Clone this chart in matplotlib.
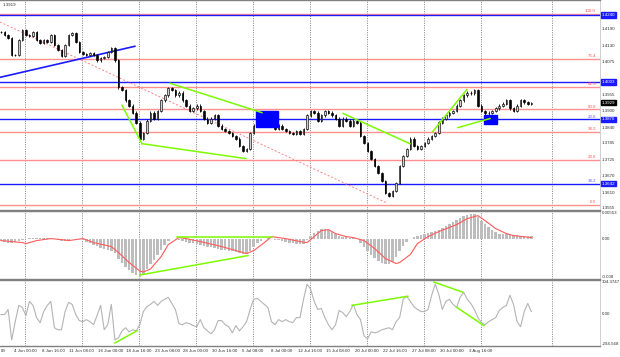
import matplotlib
matplotlib.use('Agg')
import matplotlib.pyplot as plt
from matplotlib.transforms import blended_transform_factory as btf
from matplotlib.patches import Rectangle

plt.rcParams['font.family'] = ['Liberation Sans', 'DejaVu Sans']

# ---------------- data ----------------
closes = [1.4179, 1.4168, 1.4158, 1.4097, 1.4097, 1.4151, 1.4186, 1.4168, 1.4165, 1.4179,
          1.4151, 1.4140, 1.4151, 1.4143, 1.4168, 1.4133, 1.4115, 1.4094, 1.4133, 1.4168,
          1.4176, 1.4143, 1.4108, 1.4101, 1.4097, 1.4104, 1.4097, 1.4079, 1.4087, 1.4090,
          1.4108, 1.4122, 1.4079, 1.3983, 1.3973, 1.3937, 1.3919, 1.3894, 1.3859, 1.3802,
          1.3823, 1.3866, 1.3894, 1.3873, 1.3901, 1.3937, 1.3955, 1.3980, 1.3973, 1.3955,
          1.3965, 1.3937, 1.3919, 1.3901, 1.3909, 1.3919, 1.3901, 1.3873, 1.3859, 1.3873,
          1.3884, 1.3848, 1.3837, 1.3830, 1.3823, 1.3812, 1.3802, 1.3777, 1.3759, 1.3766,
          1.3823, 1.3848, 1.3873, 1.3884, 1.3894, 1.3873, 1.3848, 1.3837, 1.3848, 1.3837,
          1.3830, 1.3823, 1.3820, 1.3830, 1.3820, 1.3837, 1.3884, 1.3901, 1.3894, 1.3866,
          1.3884, 1.3901, 1.3894, 1.3884, 1.3873, 1.3848, 1.3873, 1.3866, 1.3848, 1.3866,
          1.3859, 1.3812, 1.3787, 1.3759, 1.3731, 1.3706, 1.3681, 1.3652, 1.3610, 1.3599,
          1.3617, 1.3645, 1.3706, 1.3741, 1.3766, 1.3802, 1.3777, 1.3766, 1.3777, 1.3787,
          1.3802, 1.3812, 1.3823, 1.3859, 1.3873, 1.3884, 1.3894, 1.3901, 1.3919, 1.3937,
          1.3955, 1.3965, 1.3962, 1.3973, 1.3919, 1.3901, 1.3891, 1.3894, 1.3901, 1.3909,
          1.3919, 1.3926, 1.3937, 1.3909, 1.3901, 1.3919, 1.3937, 1.3930, 1.3926, 1.3929]

macd_hist = [-0.0004, -0.0006, -0.0008, -0.0008, -0.0007, -0.0005, -0.0003, -0.0001, 0.0001, 0.0002,
             0.0002, 0.0001, 0.0002, 0.0002, 0.0001, 0.0000, -0.0002, -0.0004, -0.0005, -0.0003,
             -0.0001, 0.0000, -0.0001, -0.0003, -0.0006, -0.0009, -0.0012, -0.0015, -0.0018, -0.0020,
             -0.0022, -0.0024, -0.0028, -0.0040, -0.0048, -0.0056, -0.0062, -0.0068, -0.0072, -0.0076,
             -0.0070, -0.0060, -0.0050, -0.0042, -0.0032, -0.0022, -0.0012, -0.0004, 0.0000, 0.0000,
             -0.0002, -0.0004, -0.0006, -0.0008, -0.0009, -0.0010, -0.0012, -0.0014, -0.0016, -0.0017,
             -0.0018, -0.0020, -0.0022, -0.0023, -0.0024, -0.0025, -0.0026, -0.0028, -0.0030, -0.0030,
             -0.0024, -0.0016, -0.0009, -0.0004, -0.0001, 0.0001, 0.0000, -0.0002, -0.0003, -0.0005,
             -0.0006, -0.0008, -0.0009, -0.0010, -0.0011, -0.0010, -0.0002, 0.0006, 0.0012, 0.0016,
             0.0019, 0.0020, 0.0018, 0.0014, 0.0010, 0.0006, 0.0004, 0.0003, 0.0002, 0.0001,
             0.0000, -0.0008, -0.0016, -0.0024, -0.0032, -0.0038, -0.0044, -0.0048, -0.0050, -0.0050,
             -0.0046, -0.0036, -0.0024, -0.0014, -0.0006, 0.0000, 0.0004, 0.0006, 0.0008, 0.0010,
             0.0012, 0.0013, 0.0016, 0.0018, 0.0022, 0.0026, 0.0030, 0.0034, 0.0038, 0.0042,
             0.0045, 0.0047, 0.0049, 0.0050, 0.0044, 0.0036, 0.0030, 0.0024, 0.0018, 0.0014,
             0.0010, 0.0009, 0.0010, 0.0008, 0.0008, 0.0007, 0.0006, 0.0006, 0.0005, 0.0005]

signal_idx = [0, 3, 6, 7, 10, 14, 17, 19, 23, 26, 31, 33, 36, 39, 40, 42, 45, 47, 50, 52,
              56, 62, 67, 69, 71, 74, 76, 80, 84, 86, 88, 90, 92, 94, 97, 99, 102, 105, 108, 111,
              112, 115, 117, 120, 123, 128, 131, 134, 136, 139, 142, 144, 149]
signal_val = [-0.0004, -0.0006, -0.0008, -0.0010, -0.0004, 0.0000, -0.0002, -0.0004, 0.0000, -0.0008,
              -0.0016, -0.0028, -0.0048, -0.0065, -0.0067, -0.0061, -0.0036, -0.0012, 0.0002, 0.0000,
              -0.0006, -0.0016, -0.0026, -0.0030, -0.0024, -0.0008, 0.0004, 0.0000, -0.0006, -0.0008,
              0.0004, 0.0016, 0.0018, 0.0010, 0.0004, 0.0002, -0.0004, -0.0020, -0.0040, -0.0050,
              -0.0048, -0.0032, -0.0010, 0.0004, 0.0014, 0.0028, 0.0040, 0.0046, 0.0036, 0.0020,
              0.0010, 0.0006, 0.0002]

cci = [-9, -9, 37, -239, -74, 74, 55, -18, 110, 74,
       -37, -83, 18, 74, 110, -129, -147, -147, 18, 101,
       83, -9, -64, -74, -55, -74, -101, -18, 74, -147,
       -101, 83, -239, -221, -157, -129, -166, -147, -157, -101,
       18, 64, 83, 110, 74, 110, 129, 147, 92, 37,
       -92, -101, -83, -92, -110, -120, -55, -129, -157, -184,
       -147, -64, -64, -101, -120, -175, -110, -157, -120, -74,
       37, 129, 138, 110, 83, 55, -74, -101, -55, -74,
       -55, -74, -83, -37, -37, 129, 267, 221, 110, 37,
       46, -37, -101, -147, -101, 28, 9, -28, 18, 83,
       -9, -55, -203, -230, -166, -175, -166, -147, -138, -129,
       -147, -74, -37, 129, 157, 110, 64, 37, 18, 18,
       37, 166, 267, 175, 37, 110, 129, 83, 55, 147,
       193, 129, 92, 37, -37, -83, -101, -74, -55, -37,
       28, 55, 74, 166, 83, -74, -120, 18, 92, 18]

first_label_tail = "00"
tick_labels = ["4 Jun 00:00", "8 Jun 16:00", "11 Jun 08:00", "16 Jun 00:00",
               "18 Jun 16:00", "23 Jun 08:00", "28 Jun 00:00", "30 Jun 16:00", "5 Jul 08:00",
               "8 Jul 00:00", "12 Jul 16:00", "15 Jul 08:00", "20 Jul 00:00", "22 Jul 16:00",
               "27 Jul 08:00", "30 Jul 00:00", "3 Aug 16:00"]

price_ticks = [1.4190, 1.4130, 1.4075, 1.3955, 1.3900, 1.3840, 1.3785, 1.3725, 1.3670, 1.3610, 1.3555]
blue_levels = [1.4240, 1.4003, 1.3870, 1.3642]
current_price = 1.3929
fib_high, fib_low = 1.4244, 1.3567
fib_levels = [0.0, 23.6, 38.2, 50.0, 61.8, 76.4, 100.0]
blue_fib_labels = {"23.6": 1.3870, "38.2": 1.3642}

# ---------------- figure ----------------
W, H = 620, 357
fig = plt.figure(figsize=(6.2, 3.57), dpi=100)


def ax_at(x0, y0, x1, y1):
    return fig.add_axes([x0 / W, 1 - y1 / H, (x1 - x0) / W, (y1 - y0) / H])


ax = ax_at(0, 0, 600, 210)
am = ax_at(0, 211, 600, 279)
ac = ax_at(0, 280, 600, 346)

n = len(closes)
xs = list(range(n))
XL = (-0.28, 168.3)
FS = 3.2
TXT = '#303030'

for a in (ax, am, ac):
    a.set_xlim(*XL)
    a.set_xticks([])
    a.set_yticks([])
    for s in a.spines.values():
        s.set_color('#808080')
        s.set_linewidth(1.0)
    a.spines['left'].set_visible(False)
    a.spines['right'].set_color('#c8c8c8')
    a.spines['right'].set_linewidth(0.6)

ax.set_ylim(1.3549, 1.4293)
am.set_ylim(-0.0081, 0.00553)
ac.set_ylim(-294.568, 304.3747)

grid_pos = [6.74 + 16 * j for j in range(9)] + [154.8]
for a in (ax, am, ac):
    for g in grid_pos:
        a.axvline(g, color='#707070', lw=0.6, ls=(0, (1.2, 1.6)), zorder=1)

# fib (red) lines
for lv in fib_levels:
    p = fib_low + (fib_high - fib_low) * lv / 100.0
    ax.axhline(p, color='#ff9090', lw=1.0, zorder=2)
    ax.text(596 / 600, p + 0.0003, f"{lv:.1f}", transform=btf(ax.transAxes, ax.transData),
            ha='right', va='bottom', fontsize=FS, color='#ff5050')
for lab, p in blue_fib_labels.items():
    ax.text(596 / 600, p + 0.0003, lab, transform=btf(ax.transAxes, ax.transData),
            ha='right', va='bottom', fontsize=FS, color='#5a5aff')

# blue horizontal levels
for p in blue_levels:
    ax.axhline(p, color='#1a1aff', lw=1.0, zorder=2)

# pink dotted trend
ax.plot([-0.28, 108.4], [1.4215, 1.3574], color='#ff8080', lw=0.7, ls=(0, (2, 2)), zorder=2)
# blue rising trend
ax.plot([-0.28, 37.6], [1.4019, 1.4129], color='#1a1aff', lw=1.2, zorder=3)

# candles
opens = [closes[0]] + closes[:-1]
for i in xs:
    o, c = opens[i], closes[i]
    lo, hi = min(o, c), max(o, c)
    ax.vlines(i, lo - 0.0004, hi + 0.0004, color='black', lw=0.6, zorder=4)
    body_col = '#d0d0d0' if c >= o else 'black'
    ax.add_patch(Rectangle((i - 0.22, lo), 0.44, max(hi - lo, 0.00012), facecolor=body_col,
                           edgecolor='black', lw=0.45, zorder=5))

# blue rectangles
ax.add_patch(Rectangle((71.6, 1.3844), 6.2, 0.0054, facecolor='#0000ff', edgecolor='#0000ff', zorder=6))
ax.add_patch(Rectangle((135.7, 1.3852), 3.6, 0.0032, facecolor='#0000ff', edgecolor='#0000ff', zorder=6))

# green divergence lines (price)
GC = '#7cfc00'
for (x0, y0, x1, y1) in [(34, 1.3920, 39.6, 1.3784), (39.6, 1.3784, 68.8, 1.3731),
                         (47.5, 1.3998, 73.3, 1.3894), (96.1, 1.3891, 114.9, 1.3784),
                         (121.3, 1.3827, 130.9, 1.3976), (128.4, 1.3841, 137.4, 1.3873)]:
    ax.plot([x0, x1], [y0, y1], color=GC, lw=1.1, zorder=7)

# right price labels
tr = btf(ax.transAxes, ax.transData)
LX = 1.003
for p in price_ticks:
    ax.text(LX, p, f"{p:.4f}", transform=tr, ha='left', va='center', fontsize=FS, color=TXT,
            clip_on=False)
for p in blue_levels:
    ax.text(LX, p, f"{p:.4f}", transform=tr, ha='left', va='center', fontsize=FS, color='white',
            clip_on=False, bbox=dict(boxstyle='square,pad=0.15', fc='#1a1aff', ec='#1a1aff'))
ax.text(LX, current_price, f"{current_price:.4f}", transform=tr, ha='left', va='center', fontsize=FS,
        color='white', clip_on=False, bbox=dict(boxstyle='square,pad=0.15', fc='black', ec='black'))
ax.text(0.004, 0.985, "1.3919", transform=ax.transAxes, ha='left', va='top', fontsize=FS, color=TXT)

# MACD
am.bar(xs, macd_hist, width=0.7, color='#bdbdbd', zorder=3)
am.plot(signal_idx, signal_val, color='#ff5a5a', lw=0.8, zorder=4)
for (x0, y0, x1, y1) in [(39, -0.0073, 69.4, -0.0034), (49.4, 0.0004, 76.1, 0.0004)]:
    am.plot([x0, x1], [y0, y1], color=GC, lw=1.1, zorder=5)
trm = btf(am.transAxes, am.transData)
am.text(LX, 0.00553, "0.00553", transform=trm, ha='left', va='top', fontsize=FS, color=TXT, clip_on=False)
am.text(LX, 0.0, "0.00", transform=trm, ha='left', va='center', fontsize=FS, color=TXT, clip_on=False)
am.text(LX, -0.0081, "-0.008", transform=trm, ha='left', va='bottom', fontsize=FS, color=TXT, clip_on=False)

# CCI
ac.plot(xs, cci, color='#b4b4b4', lw=0.8, zorder=3)
for (x0, y0, x1, y1) in [(32, -267, 38.2, -157), (98.6, 74, 114.3, 157),
                         (121.6, 286, 129.8, 193), (128.1, 55, 135.7, -110)]:
    ac.plot([x0, x1], [y0, y1], color=GC, lw=1.1, zorder=5)
trc = btf(ac.transAxes, ac.transData)
ac.text(LX, 304.3747, "304.3747", transform=trc, ha='left', va='top', fontsize=FS, color=TXT, clip_on=False)
ac.text(LX, 0.0, "0.00", transform=trc, ha='left', va='center', fontsize=FS, color=TXT, clip_on=False)
ac.text(LX, -294.568, "-294.568", transform=trc, ha='left', va='bottom', fontsize=FS, color=TXT, clip_on=False)

# x labels
ylab = 1 - 351 / H
fig.text(0.5 / W, ylab, first_label_tail, ha='left', va='center', fontsize=FS, color=TXT)
trx = btf(ac.transData, fig.transFigure)
for j, lab in enumerate(tick_labels):
    pos = 6.74 + 8 * j
    ac.text(pos, ylab, lab, transform=trx, ha='center', va='center', fontsize=FS,
            color=TXT, clip_on=False)

fig.savefig('out.png', dpi=100)
